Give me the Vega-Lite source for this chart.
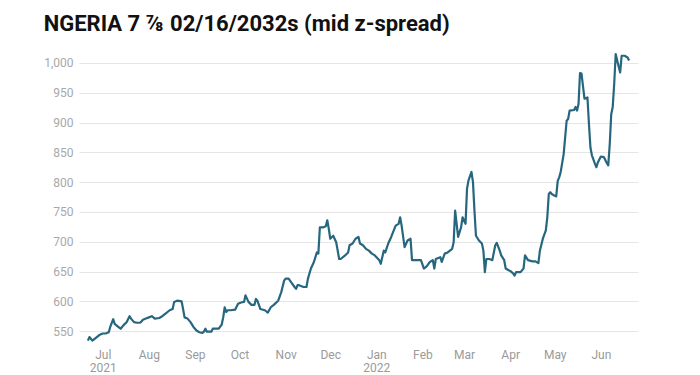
{
  "$schema": "https://vega.github.io/schema/vega-lite/v6.json",
  "width": 559,
  "height": 295,
  "padding": {"left": 43, "top": 13, "right": 60, "bottom": 0},
  "background": "white",
  "title": {
    "text": "NGERIA 7 ⅞ 02/16/2032s (mid z-spread)",
    "anchor": "start",
    "frame": "bounds",
    "font": "Roboto",
    "fontSize": 22,
    "fontWeight": "bold",
    "color": "#111111",
    "offset": 15
  },
  "config": {
    "view": {"stroke": null},
    "font": "Roboto"
  },
  "data": {
    "values": [
      {"date": "2021-06-21", "v": 534},
      {"date": "2021-06-22", "v": 540},
      {"date": "2021-06-24", "v": 534},
      {"date": "2021-06-27", "v": 540},
      {"date": "2021-06-29", "v": 544},
      {"date": "2021-07-01", "v": 546},
      {"date": "2021-07-03", "v": 546},
      {"date": "2021-07-05", "v": 548},
      {"date": "2021-07-06", "v": 557},
      {"date": "2021-07-08", "v": 570},
      {"date": "2021-07-09", "v": 562},
      {"date": "2021-07-11", "v": 558},
      {"date": "2021-07-13", "v": 554},
      {"date": "2021-07-15", "v": 560},
      {"date": "2021-07-17", "v": 565},
      {"date": "2021-07-19", "v": 575},
      {"date": "2021-07-20", "v": 571},
      {"date": "2021-07-22", "v": 565},
      {"date": "2021-07-24", "v": 564},
      {"date": "2021-07-26", "v": 564},
      {"date": "2021-07-27", "v": 566},
      {"date": "2021-07-28", "v": 569},
      {"date": "2021-07-30", "v": 571},
      {"date": "2021-08-01", "v": 573},
      {"date": "2021-08-03", "v": 575},
      {"date": "2021-08-05", "v": 571},
      {"date": "2021-08-08", "v": 572},
      {"date": "2021-08-10", "v": 575},
      {"date": "2021-08-12", "v": 579},
      {"date": "2021-08-15", "v": 585},
      {"date": "2021-08-17", "v": 587},
      {"date": "2021-08-18", "v": 599},
      {"date": "2021-08-20", "v": 601},
      {"date": "2021-08-23", "v": 600},
      {"date": "2021-08-24", "v": 587},
      {"date": "2021-08-25", "v": 573},
      {"date": "2021-08-27", "v": 571},
      {"date": "2021-08-29", "v": 565},
      {"date": "2021-08-31", "v": 557},
      {"date": "2021-09-02", "v": 551},
      {"date": "2021-09-04", "v": 548},
      {"date": "2021-09-06", "v": 547},
      {"date": "2021-09-07", "v": 549},
      {"date": "2021-09-08", "v": 554},
      {"date": "2021-09-09", "v": 549},
      {"date": "2021-09-12", "v": 549},
      {"date": "2021-09-13", "v": 554},
      {"date": "2021-09-15", "v": 554},
      {"date": "2021-09-17", "v": 554},
      {"date": "2021-09-19", "v": 561},
      {"date": "2021-09-20", "v": 573},
      {"date": "2021-09-21", "v": 590},
      {"date": "2021-09-22", "v": 582},
      {"date": "2021-09-23", "v": 585},
      {"date": "2021-09-25", "v": 585},
      {"date": "2021-09-28", "v": 586},
      {"date": "2021-09-30", "v": 596},
      {"date": "2021-10-02", "v": 598},
      {"date": "2021-10-04", "v": 599},
      {"date": "2021-10-05", "v": 610},
      {"date": "2021-10-07", "v": 599},
      {"date": "2021-10-09", "v": 594},
      {"date": "2021-10-11", "v": 594},
      {"date": "2021-10-12", "v": 604},
      {"date": "2021-10-13", "v": 601},
      {"date": "2021-10-15", "v": 587},
      {"date": "2021-10-18", "v": 585},
      {"date": "2021-10-20", "v": 581},
      {"date": "2021-10-22", "v": 590},
      {"date": "2021-10-24", "v": 594},
      {"date": "2021-10-27", "v": 601},
      {"date": "2021-10-29", "v": 615},
      {"date": "2021-10-31", "v": 635},
      {"date": "2021-11-01", "v": 638},
      {"date": "2021-11-03", "v": 638},
      {"date": "2021-11-05", "v": 631},
      {"date": "2021-11-07", "v": 624},
      {"date": "2021-11-08", "v": 621},
      {"date": "2021-11-09", "v": 627},
      {"date": "2021-11-10", "v": 627},
      {"date": "2021-11-13", "v": 624},
      {"date": "2021-11-15", "v": 624},
      {"date": "2021-11-16", "v": 638},
      {"date": "2021-11-18", "v": 655},
      {"date": "2021-11-20", "v": 666},
      {"date": "2021-11-22", "v": 682},
      {"date": "2021-11-23", "v": 680},
      {"date": "2021-11-24", "v": 724},
      {"date": "2021-11-26", "v": 724},
      {"date": "2021-11-28", "v": 726},
      {"date": "2021-11-29", "v": 736},
      {"date": "2021-11-30", "v": 722},
      {"date": "2021-12-01", "v": 705},
      {"date": "2021-12-03", "v": 710},
      {"date": "2021-12-05", "v": 699},
      {"date": "2021-12-07", "v": 671},
      {"date": "2021-12-08", "v": 671},
      {"date": "2021-12-11", "v": 677},
      {"date": "2021-12-13", "v": 682},
      {"date": "2021-12-14", "v": 694},
      {"date": "2021-12-16", "v": 697},
      {"date": "2021-12-18", "v": 705},
      {"date": "2021-12-20", "v": 708},
      {"date": "2021-12-21", "v": 697},
      {"date": "2021-12-23", "v": 694},
      {"date": "2021-12-25", "v": 688},
      {"date": "2021-12-27", "v": 685},
      {"date": "2021-12-29", "v": 680},
      {"date": "2021-12-31", "v": 677},
      {"date": "2022-01-03", "v": 669},
      {"date": "2022-01-04", "v": 663},
      {"date": "2022-01-06", "v": 685},
      {"date": "2022-01-07", "v": 682},
      {"date": "2022-01-09", "v": 697},
      {"date": "2022-01-11", "v": 708},
      {"date": "2022-01-14", "v": 727},
      {"date": "2022-01-16", "v": 730},
      {"date": "2022-01-17", "v": 741},
      {"date": "2022-01-18", "v": 727},
      {"date": "2022-01-20", "v": 691},
      {"date": "2022-01-22", "v": 702},
      {"date": "2022-01-24", "v": 705},
      {"date": "2022-01-25", "v": 669},
      {"date": "2022-01-27", "v": 669},
      {"date": "2022-01-31", "v": 669},
      {"date": "2022-02-02", "v": 655},
      {"date": "2022-02-04", "v": 659},
      {"date": "2022-02-06", "v": 666},
      {"date": "2022-02-08", "v": 669},
      {"date": "2022-02-09", "v": 655},
      {"date": "2022-02-10", "v": 671},
      {"date": "2022-02-13", "v": 674},
      {"date": "2022-02-14", "v": 666},
      {"date": "2022-02-16", "v": 680},
      {"date": "2022-02-18", "v": 682},
      {"date": "2022-02-21", "v": 688},
      {"date": "2022-02-22", "v": 699},
      {"date": "2022-02-23", "v": 752},
      {"date": "2022-02-25", "v": 708},
      {"date": "2022-02-27", "v": 724},
      {"date": "2022-02-28", "v": 741},
      {"date": "2022-03-02", "v": 730},
      {"date": "2022-03-03", "v": 789},
      {"date": "2022-03-04", "v": 803},
      {"date": "2022-03-06", "v": 817},
      {"date": "2022-03-07", "v": 800},
      {"date": "2022-03-08", "v": 752},
      {"date": "2022-03-09", "v": 710},
      {"date": "2022-03-11", "v": 702},
      {"date": "2022-03-13", "v": 697},
      {"date": "2022-03-14", "v": 685},
      {"date": "2022-03-15", "v": 649},
      {"date": "2022-03-16", "v": 671},
      {"date": "2022-03-18", "v": 671},
      {"date": "2022-03-20", "v": 669},
      {"date": "2022-03-22", "v": 694},
      {"date": "2022-03-23", "v": 698},
      {"date": "2022-03-25", "v": 685},
      {"date": "2022-03-26", "v": 677},
      {"date": "2022-03-28", "v": 669},
      {"date": "2022-03-29", "v": 655},
      {"date": "2022-03-31", "v": 652},
      {"date": "2022-04-01", "v": 651},
      {"date": "2022-04-03", "v": 647},
      {"date": "2022-04-04", "v": 643},
      {"date": "2022-04-05", "v": 649},
      {"date": "2022-04-08", "v": 649},
      {"date": "2022-04-10", "v": 655},
      {"date": "2022-04-11", "v": 677},
      {"date": "2022-04-13", "v": 669},
      {"date": "2022-04-16", "v": 667},
      {"date": "2022-04-18", "v": 667},
      {"date": "2022-04-20", "v": 664},
      {"date": "2022-04-21", "v": 685},
      {"date": "2022-04-23", "v": 705},
      {"date": "2022-04-25", "v": 719},
      {"date": "2022-04-26", "v": 741},
      {"date": "2022-04-27", "v": 780},
      {"date": "2022-04-28", "v": 783},
      {"date": "2022-04-29", "v": 780},
      {"date": "2022-05-01", "v": 777},
      {"date": "2022-05-02", "v": 776},
      {"date": "2022-05-03", "v": 802},
      {"date": "2022-05-04", "v": 808},
      {"date": "2022-05-05", "v": 817},
      {"date": "2022-05-07", "v": 847},
      {"date": "2022-05-09", "v": 903},
      {"date": "2022-05-10", "v": 906},
      {"date": "2022-05-11", "v": 920},
      {"date": "2022-05-14", "v": 921},
      {"date": "2022-05-15", "v": 926},
      {"date": "2022-05-16", "v": 920},
      {"date": "2022-05-17", "v": 931},
      {"date": "2022-05-18", "v": 983},
      {"date": "2022-05-19", "v": 982},
      {"date": "2022-05-21", "v": 940},
      {"date": "2022-05-23", "v": 942},
      {"date": "2022-05-24", "v": 898},
      {"date": "2022-05-25", "v": 858},
      {"date": "2022-05-26", "v": 845},
      {"date": "2022-05-28", "v": 831},
      {"date": "2022-05-29", "v": 825},
      {"date": "2022-05-30", "v": 833},
      {"date": "2022-06-01", "v": 843},
      {"date": "2022-06-03", "v": 842},
      {"date": "2022-06-05", "v": 832},
      {"date": "2022-06-06", "v": 828},
      {"date": "2022-06-07", "v": 864},
      {"date": "2022-06-08", "v": 914},
      {"date": "2022-06-09", "v": 926},
      {"date": "2022-06-10", "v": 965},
      {"date": "2022-06-11", "v": 1015},
      {"date": "2022-06-12", "v": 1004},
      {"date": "2022-06-14", "v": 984},
      {"date": "2022-06-15", "v": 1012},
      {"date": "2022-06-17", "v": 1012},
      {"date": "2022-06-19", "v": 1009},
      {"date": "2022-06-20", "v": 1004}
    ]
  },
  "mark": {"type": "line", "color": "#26677f", "strokeWidth": 2.2, "strokeJoin": "round"},
  "encoding": {
    "x": {
      "field": "date",
      "type": "temporal",
      "scale": {
        "type": "utc",
        "domain": [
          {"year": 2021, "month": 6, "date": 15, "utc": true},
          {"year": 2022, "month": 6, "date": 26, "utc": true}
        ]
      },
      "axis": {
        "title": null,
        "domain": false,
        "ticks": false,
        "grid": false,
        "labelColor": "#9a9a9a",
        "labelFontSize": 12,
        "labelFont": "Roboto",
        "labelPadding": 3,
        "labelLineHeight": 13,
        "labelFlush": false,
        "labelOverlap": false,
        "values": [
          {"year": 2021, "month": 7, "date": 1, "utc": true},
          {"year": 2021, "month": 8, "date": 1, "utc": true},
          {"year": 2021, "month": 9, "date": 1, "utc": true},
          {"year": 2021, "month": 10, "date": 1, "utc": true},
          {"year": 2021, "month": 11, "date": 1, "utc": true},
          {"year": 2021, "month": 12, "date": 1, "utc": true},
          {"year": 2022, "month": 1, "date": 1, "utc": true},
          {"year": 2022, "month": 2, "date": 1, "utc": true},
          {"year": 2022, "month": 3, "date": 1, "utc": true},
          {"year": 2022, "month": 4, "date": 1, "utc": true},
          {"year": 2022, "month": 5, "date": 1, "utc": true},
          {"year": 2022, "month": 6, "date": 1, "utc": true}
        ],
        "labelExpr": "(utcmonth(datum.value) == 0 || (utcmonth(datum.value) == 6 && utcyear(datum.value) == 2021)) ? [utcFormat(datum.value, '%b'), utcFormat(datum.value, '%Y')] : utcFormat(datum.value, '%b')"
      }
    },
    "y": {
      "field": "v",
      "type": "quantitative",
      "scale": {"domain": [525, 1020], "nice": false, "zero": false},
      "axis": {
        "title": null,
        "domain": false,
        "ticks": false,
        "values": [550, 600, 650, 700, 750, 800, 850, 900, 950, 1000],
        "format": ",d",
        "labelColor": "#a8a8a8",
        "labelFontSize": 12,
        "labelFont": "Roboto",
        "labelPadding": 6,
        "gridColor": "#e6e6e6",
        "gridWidth": 1
      }
    }
  }
}
